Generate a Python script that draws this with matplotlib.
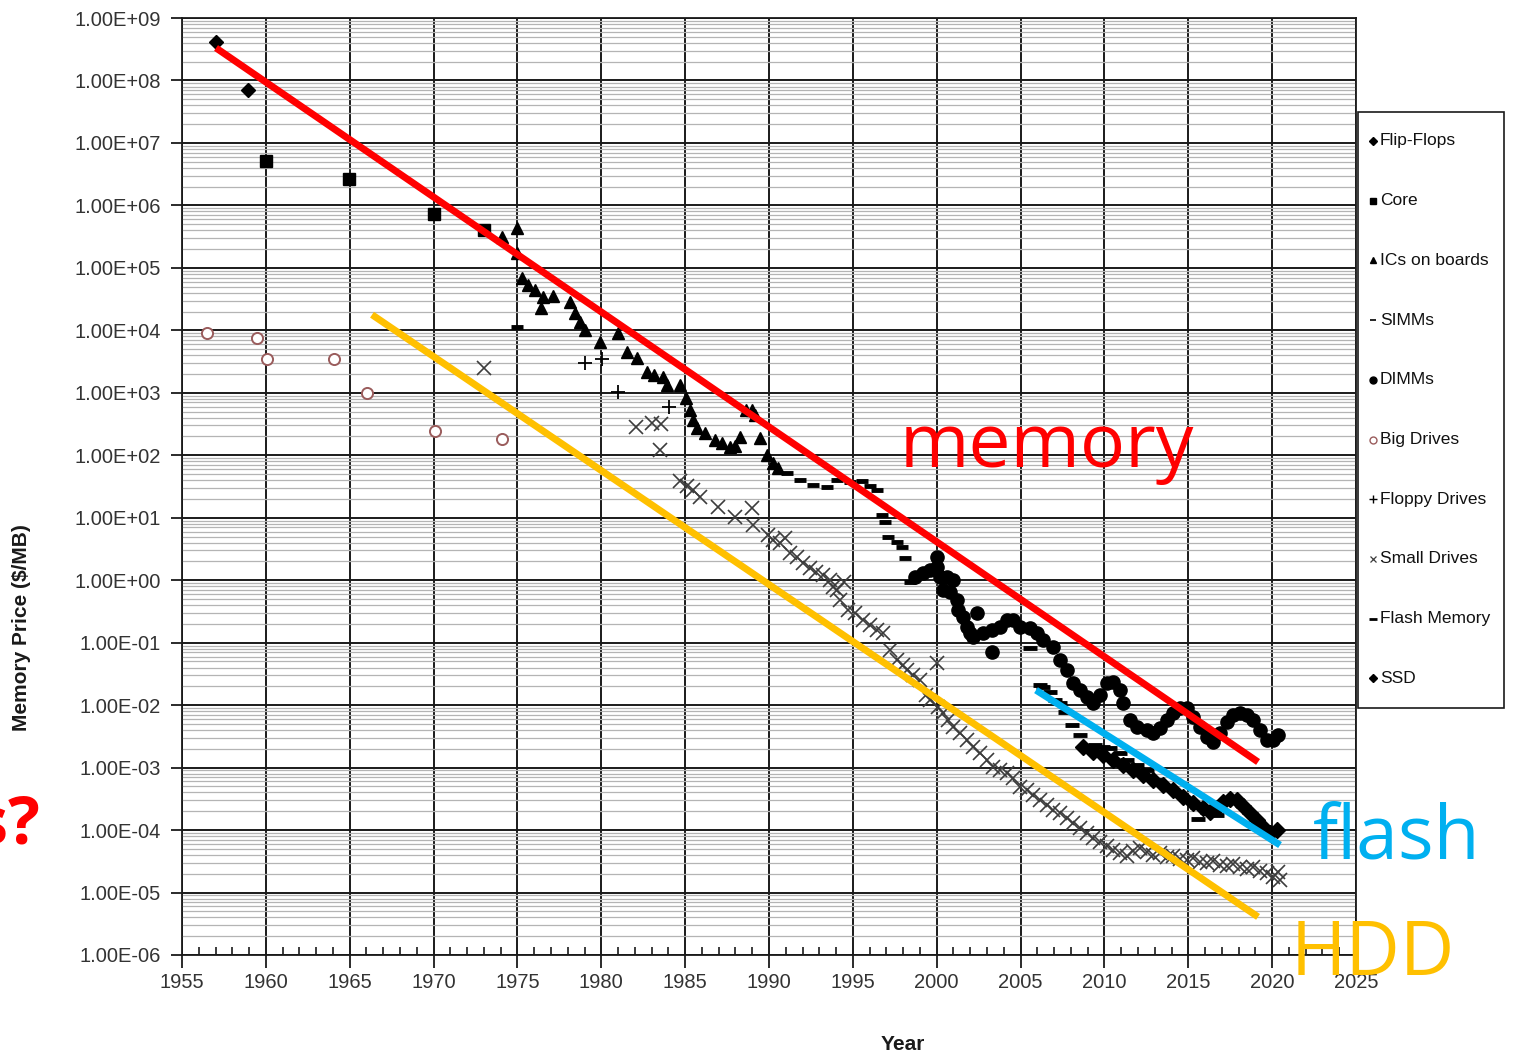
import matplotlib

matplotlib.use("Agg")
import matplotlib.pyplot as plt
import numpy as np
from matplotlib.lines import Line2D
from matplotlib.patches import Rectangle
from matplotlib.ticker import FixedLocator, FuncFormatter, LogLocator, MultipleLocator

# price values are stored as log10($/MB)
flip_years = [1957.03, 1958.94]
flip_exp = [8.62, 7.85]

core_years = [1960.01, 1964.96, 1970.03, 1973.01]
core_exp = [6.71, 6.42, 5.86, 5.61]

ics_years = [1974.08, 1974.98, 1974.98, 1975.27, 1975.63, 1976.05, 1976.41, 1976.53,
             1977.12, 1978.14, 1978.43, 1978.73, 1979.03, 1979.93, 1981.00, 1981.54,
             1982.13, 1982.73, 1983.15, 1983.68, 1983.92, 1984.70, 1985.05, 1985.29,
             1985.47, 1985.71, 1986.19, 1986.78, 1987.20, 1987.68, 1987.98, 1988.27,
             1988.63, 1988.99, 1989.17, 1989.47, 1989.88, 1990.24, 1990.54]
ics_exp = [5.49, 5.64, 5.24, 4.84, 4.73, 4.65, 4.36, 4.53,
           4.55, 4.45, 4.28, 4.13, 4.01, 3.81, 3.96, 3.65,
           3.56, 3.33, 3.28, 3.25, 3.13, 3.13, 2.92, 2.72,
           2.57, 2.44, 2.36, 2.24, 2.20, 2.13, 2.15, 2.29,
           2.72, 2.72, 2.64, 2.28, 2.00, 1.88, 1.80]

simm_years = [1974.98, 1991.08, 1991.85, 1992.63, 1993.46, 1994.06, 1994.83, 1995.55,
              1996.03, 1996.44, 1996.74, 1996.92, 1997.10, 1997.64, 1997.93, 1998.11,
              1998.41, 1998.83]
simm_exp = [4.05, 1.72, 1.60, 1.52, 1.49, 1.60, 1.57, 1.59,
            1.51, 1.44, 1.04, 0.93, 0.69, 0.61, 0.53, 0.36,
            -0.03, 0.05]

dimm_years = [1998.71, 1999.19, 1999.60, 2000.02, 2000.02, 2000.20, 2000.62, 2000.97,
              2000.38, 2000.80, 2001.21, 2001.27, 2001.57, 2001.81, 2001.99, 2002.17,
              2002.41, 2002.76, 2003.30, 2003.30, 2003.78, 2004.19, 2004.55, 2004.97,
              2005.57, 2005.98, 2006.34, 2006.94, 2007.36, 2007.77, 2008.13, 2008.55,
              2008.97, 2009.32, 2009.74, 2010.16, 2010.51, 2010.93, 2011.11, 2011.53,
              2011.95, 2012.54, 2012.90, 2013.32, 2013.74, 2014.09, 2014.51, 2014.93,
              2015.29, 2015.70, 2016.12, 2016.48, 2016.90, 2017.31, 2017.67, 2018.09,
              2018.51, 2018.86, 2019.28, 2019.70, 2020.06, 2020.35]
dimm_exp = [0.05, 0.12, 0.16, 0.21, 0.37, 0.05, 0.05, 0.00,
            -0.16, -0.19, -0.32, -0.48, -0.59, -0.75, -0.85, -0.91,
            -0.52, -0.85, -0.80, -1.15, -0.75, -0.64, -0.64, -0.75,
            -0.76, -0.85, -0.96, -1.07, -1.28, -1.44, -1.65, -1.76,
            -1.87, -1.97, -1.84, -1.65, -1.63, -1.76, -1.97, -2.24,
            -2.35, -2.40, -2.45, -2.37, -2.24, -2.13, -2.05, -2.05,
            -2.19, -2.35, -2.51, -2.59, -2.45, -2.27, -2.16, -2.13,
            -2.16, -2.24, -2.40, -2.56, -2.56, -2.48]

big_years = [1956.49, 1959.47, 1960.07, 1964.06, 1966.03, 1970.09, 1974.08]
big_exp = [3.96, 3.88, 3.54, 3.54, 3.00, 2.39, 2.26]

floppy_years = [1979.03, 1980.04, 1981.00, 1984.04]
floppy_exp = [3.48, 3.54, 3.01, 2.77]

small_years = [1973.01, 1982.07, 1983.03, 1983.56, 1983.50, 1984.70, 1985.11, 1985.47,
               1985.89, 1986.96, 1987.98, 1988.99, 1989.05, 1989.94, 1990.24, 1990.66,
               1990.96, 1991.26, 1991.67, 1992.03, 1992.45, 1992.81, 1993.22, 1993.64,
               1993.82, 1994.06, 1994.24, 1994.47, 1994.71, 1995.13, 1995.61, 1996.03,
               1996.44, 1996.80, 1997.22, 1997.64, 1997.99, 1998.23, 1998.59, 1999.01,
               1999.36, 1999.60, 2000.02, 2000.08, 2000.38, 2000.68, 2000.97, 2001.39,
               2001.81, 2002.17, 2002.59, 2003.00, 2003.36, 2003.78, 2004.19, 2004.55,
               2004.97, 2005.39, 2005.75, 2006.16, 2006.58, 2006.94, 2007.36, 2007.77,
               2008.13, 2008.55, 2008.97, 2009.32, 2009.74, 2010.16, 2010.51, 2010.93,
               2011.35, 2011.71, 2012.13, 2012.54, 2012.90, 2013.32, 2013.74, 2014.09,
               2014.51, 2014.93, 2015.29, 2015.70, 2016.12, 2016.48, 2016.90, 2017.31,
               2017.67, 2018.09, 2018.51, 2018.86, 2019.28, 2019.70, 2020.06, 2020.35,
               2020.47]
small_exp = [3.40, 2.45, 2.52, 2.50, 2.08, 1.59, 1.51, 1.44,
             1.33, 1.17, 1.01, 1.16, 0.88, 0.72, 0.64, 0.60,
             0.68, 0.44, 0.37, 0.28, 0.20, 0.13, 0.08, 0.00,
             -0.11, -0.16, -0.32, -0.03, -0.48, -0.52, -0.64, -0.72,
             -0.80, -0.85, -1.12, -1.28, -1.36, -1.44, -1.52, -1.60,
             -1.84, -1.92, -1.33, -2.03, -2.13, -2.24, -2.35, -2.45,
             -2.56, -2.67, -2.77, -2.88, -2.99, -3.04, -3.08, -3.16,
             -3.31, -3.36, -3.44, -3.52, -3.60, -3.68, -3.73, -3.81,
             -3.89, -3.97, -4.05, -4.13, -4.19, -4.25, -4.32, -4.37,
             -4.42, -4.34, -4.29, -4.35, -4.40, -4.37, -4.43, -4.42,
             -4.46, -4.48, -4.45, -4.51, -4.53, -4.50, -4.56, -4.58,
             -4.55, -4.59, -4.62, -4.59, -4.65, -4.68, -4.75, -4.67,
             -4.80]

flash_years = [2005.57, 2006.16, 2006.34, 2006.76, 2007.06, 2007.36, 2007.65, 2008.07,
               2008.55, 2009.02, 2009.44, 2009.92, 2010.34, 2010.93, 2011.35, 2011.95,
               2012.54, 2013.14, 2013.74, 2014.33, 2014.93, 2015.52, 2015.58, 2016.12,
               2016.72]
flash_exp = [-1.09, -1.68, -1.71, -1.79, -1.92, -1.97, -2.11, -2.32,
             -2.48, -2.72, -2.64, -2.67, -2.69, -2.77, -2.88, -2.96,
             -3.04, -3.20, -3.31, -3.41, -3.52, -3.63, -3.82, -3.71,
             -3.76]

ssd_years = [2008.73, 2009.32, 2009.92, 2010.51, 2011.11, 2011.71, 2012.31, 2012.90,
             2013.50, 2014.09, 2014.69, 2015.29, 2015.88, 2016.30, 2016.72, 2017.07,
             2017.49, 2017.91, 2018.27, 2018.68, 2019.10, 2019.46, 2019.88, 2020.30]
ssd_exp = [-2.67, -2.75, -2.80, -2.88, -2.96, -3.04, -3.12, -3.20,
           -3.28, -3.36, -3.47, -3.57, -3.65, -3.71, -3.65, -3.55,
           -3.50, -3.52, -3.61, -3.73, -3.84, -3.95, -4.05, -4.00]

# hand-drawn trend lines (start, end)
memory_line = ([1957.03, 2019.16], [8.52, -2.91])
hdd_line = ([1966.33, 2019.16], [4.25, -5.39])
flash_line = ([2005.92, 2020.47], [-1.76, -4.24])

legend_labels = ["Flip-Flops", "Core", "ICs on boards", "SIMMs", "DIMMs", "Big Drives",
                 "Floppy Drives", "Small Drives", "Flash Memory", "SSD"]

RED = "#ff0000"
CYAN = "#00b0f0"
GOLD = "#ffc000"
INK = "#1a1a1a"
TICK = "#333333"
BIGEDGE = "#9a5c5c"
SMALLC = "#3c3c3c"

plt.rcParams["font.family"] = ["Liberation Sans", "DejaVu Sans"]


def p(e):
    return np.power(10.0, np.asarray(e, dtype=float))


W, H = 1522, 1055
fig = plt.figure(figsize=(W / 100, H / 100), dpi=100)
ax = fig.add_axes([182 / W, 1 - 955 / H, 1174 / W, 937 / H])
ax.set_yscale("log")
ax.set_xlim(1955, 2025)
ax.set_ylim(1e-6, 1e9)

ax.yaxis.set_major_locator(FixedLocator(p(np.arange(-6, 10))))
ax.yaxis.set_minor_locator(LogLocator(base=10, subs=np.arange(2, 10), numticks=40))
ax.yaxis.set_major_formatter(FuncFormatter(lambda v, _: format(v, ".2E")))
ax.xaxis.set_major_locator(MultipleLocator(5))
ax.xaxis.set_minor_locator(MultipleLocator(1))

ax.grid(which="major", axis="both", color=INK, lw=1.4, zorder=0)
ax.grid(which="minor", axis="y", color="#b4b4b4", lw=0.9, zorder=0)
ax.set_axisbelow(True)
ax.tick_params(axis="both", which="major", labelsize=14.5, labelcolor=TICK,
               color=INK, width=1.3)
ax.tick_params(axis="y", which="major", length=8, pad=7, direction="out")
ax.tick_params(axis="x", which="major", length=9, pad=4, direction="out")
ax.tick_params(axis="x", which="minor", length=6, width=1.2, direction="in", color=INK)
ax.tick_params(axis="y", which="minor", length=0)
for s in ax.spines.values():
    s.set_color(INK)
    s.set_linewidth(1.3)

mk = dict(ls="none", zorder=3)
ax.plot(flip_years, p(flip_exp), "D", ms=7, color="black", **mk)
ax.plot(core_years, p(core_exp), "s", ms=9, color="black", **mk)
ax.plot(ics_years, p(ics_exp), "^", ms=9, color="black", **mk)
ax.plot(simm_years, p(simm_exp), "_", ms=9, mew=3.5, color="black", **mk)
ax.plot(dimm_years, p(dimm_exp), "o", ms=9.5, color="black", **mk)
ax.plot(big_years, p(big_exp), "o", ms=8, mfc="white", mec=BIGEDGE, mew=1.4, **mk)
ax.plot(floppy_years, p(floppy_exp), "+", ms=10, mew=1.3, color="black", **mk)
ax.plot(small_years, p(small_exp), "x", ms=10, mew=1.2, color=SMALLC, **mk)
ax.plot(flash_years, p(flash_exp), "_", ms=10, mew=3.5, color="black", **mk)
ax.plot(ssd_years, p(ssd_exp), "D", ms=8, color="black", **mk)

ax.plot(memory_line[0], p(memory_line[1]), color=RED, lw=5, solid_capstyle="butt", zorder=4)
ax.plot(hdd_line[0], p(hdd_line[1]), color=GOLD, lw=5, solid_capstyle="butt", zorder=4)
ax.plot(flash_line[0], p(flash_line[1]), color=CYAN, lw=5, solid_capstyle="butt", zorder=4)

big = dict(family=["Open Sans", "DejaVu Sans"], fontsize=54, va="baseline",
           transform=ax.transAxes, clip_on=False, zorder=5)
ax.text(0.611, 0.521, "memory", color=RED, **big)
ax.text(0.963, 0.1035, "flash", color=CYAN, **big)
ax.text(0.944, -0.021, "HDD", color=GOLD, **big)
fig.text(40 / W, 1 - 843 / H, "s?", ha="right", va="baseline", fontsize=48,
         fontweight="bold", color=RED, family=["Open Sans", "DejaVu Sans"])

fig.text(22 / W, 1 - 628 / H, "Memory Price ($/MB)", rotation=90,
         ha="center", va="center", fontsize=15, fontweight="bold", color=INK)
fig.text(903 / W, 1 - 1045 / H, "Year", ha="center", va="center",
         fontsize=15, fontweight="bold", color=INK)

# legend box drawn by hand so the spacing matches the original
fig.add_artist(Rectangle((1358 / W, 1 - 708 / H), 146 / W, 596 / H,
                         transform=fig.transFigure, fill=False, ec=INK, lw=1.2))
handle_styles = [
    dict(marker="D", ms=4, color="black"),
    dict(marker="s", ms=5, color="black"),
    dict(marker="^", ms=5, color="black"),
    dict(marker="_", ms=4, mew=1.2, color="black"),
    dict(marker="o", ms=5, color="black"),
    dict(marker="o", ms=5, mfc="white", mec=BIGEDGE, mew=1),
    dict(marker="+", ms=6, mew=1, color="black"),
    dict(marker="x", ms=5, mew=0.9, color=SMALLC),
    dict(marker="_", ms=6, mew=2, color="black"),
    dict(marker="D", ms=4, color="black"),
]
for i, (lab, st) in enumerate(zip(legend_labels, handle_styles)):
    y = 1 - (141 + i * 59.7) / H
    fig.add_artist(Line2D([1373 / W], [y], ls="none", transform=fig.transFigure, **st))
    fig.text(1380 / W, y, lab, ha="left", va="center", fontsize=12.5, color="#111111")

fig.savefig("out.png", dpi=100)
